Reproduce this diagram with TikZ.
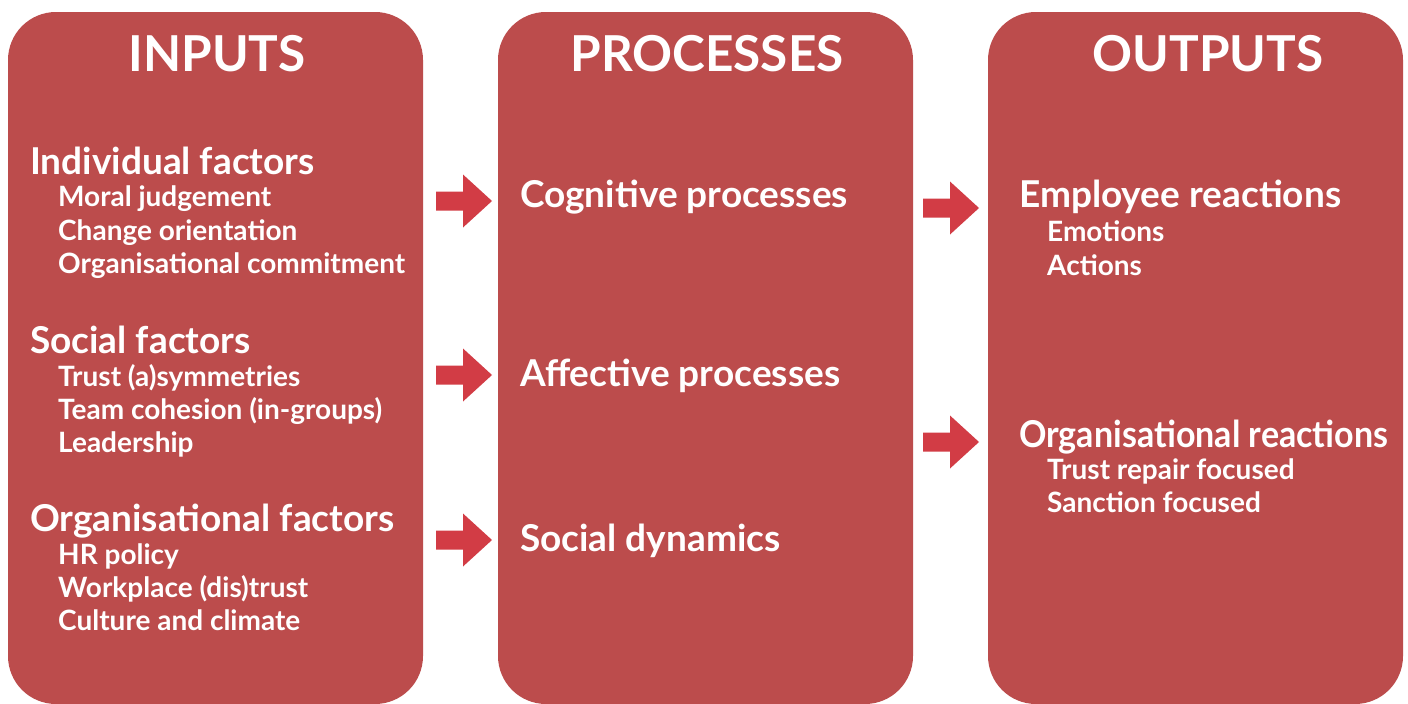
\documentclass[tikz,border=0pt]{standalone}
\usepackage{fontspec}
\setmainfont{Lato}
\begin{document}
\begin{tikzpicture}[x=1pt,y=-1pt,
  box/.style={fill=boxc,rounded corners=48pt,minimum width=415pt,minimum height=692pt,inner sep=0pt,draw=none},
  ttl/.style={text=white,font=\bfseries\fontsize{49.5}{56}\selectfont,anchor=base,inner sep=0pt},
  hd/.style={text=white,font=\bfseries\fontsize{37}{42}\selectfont,anchor=base west,inner sep=0pt},
  sub/.style={text=white,font=\bfseries\fontsize{28}{33}\selectfont,anchor=base west,inner sep=0pt},
  arr/.style={fill=arrowc,draw=none}]
\definecolor{boxc}{HTML}{BC4C4C}
\definecolor{arrowc}{HTML}{D23C45}
\useasboundingbox[fill=white] (0,0) rectangle (1408,704);
\node[box] (inbox) at (215.5,358) {};
\node[box] (prbox) at (705.5,358) {};
\node[box] (outbox) at (1195.5,358) {};
\node[ttl] (tin) at (217,71) {INPUTS};
\node[ttl] (tpr) at (707,71) {PROCESSES};
\node[ttl] (tout) at (1208,71) {OUTPUTS};
% inputs
\node[hd] (ind) at (30,174.5) {Individual factors};
\node[sub] (i1) at (58,206) {Moral judgement};
\node[sub] (i2) at (58,240) {Change orientation};
\node[sub] (i3) at (58,273) {Organisational commitment};
\node[hd] (soc) at (30,353.5) {Social factors};
\node[sub] (s1) at (58,386) {Trust (a)symmetries};
\node[sub] (s2) at (58,419) {Team cohesion (in-groups)};
\node[sub] (s3) at (58,452) {Leadership};
\node[hd] (org) at (30,531.5) {Organisational factors};
\node[sub] (o1) at (58,564) {HR policy};
\node[sub] (o2) at (58,597) {Workplace (dis)trust};
\node[sub] (o3) at (58,630) {Culture and climate};
% processes
\node[hd] (cog) at (520,207.5) {Cognitive processes};
\node[hd] (aff) at (520,386.5) {Affective processes};
\node[hd] (dyn) at (520,551.5) {Social dynamics};
% outputs
\node[hd] (emp) at (1019,207.5) {Employee reactions};
\node[sub] (e1) at (1047,241) {Emotions};
\node[sub] (e2) at (1047,275) {Actions};
\node[hd] (orr) at (1019,447.5) {\scalebox{0.92}[1]{Organisational reactions}};
\node[sub] (r1) at (1047,479) {Trust repair focused};
\node[sub] (r2) at (1047,512) {Sanction focused};
% arrows
\foreach \n/\x/\y in {a1/436/201, a2/436/375, a3/436/540, a4/923/208, a5/923/442}{
  \fill[arr] (\x,\y-9.5) -- ++(27,0) -- ++(0,-17) -- ++(29,26.5) -- ++(-29,26.5) -- ++(0,-17) -- ++(-27,0) -- cycle;
  \coordinate (\n) at (\x,\y);
}
\end{tikzpicture}
\end{document}
